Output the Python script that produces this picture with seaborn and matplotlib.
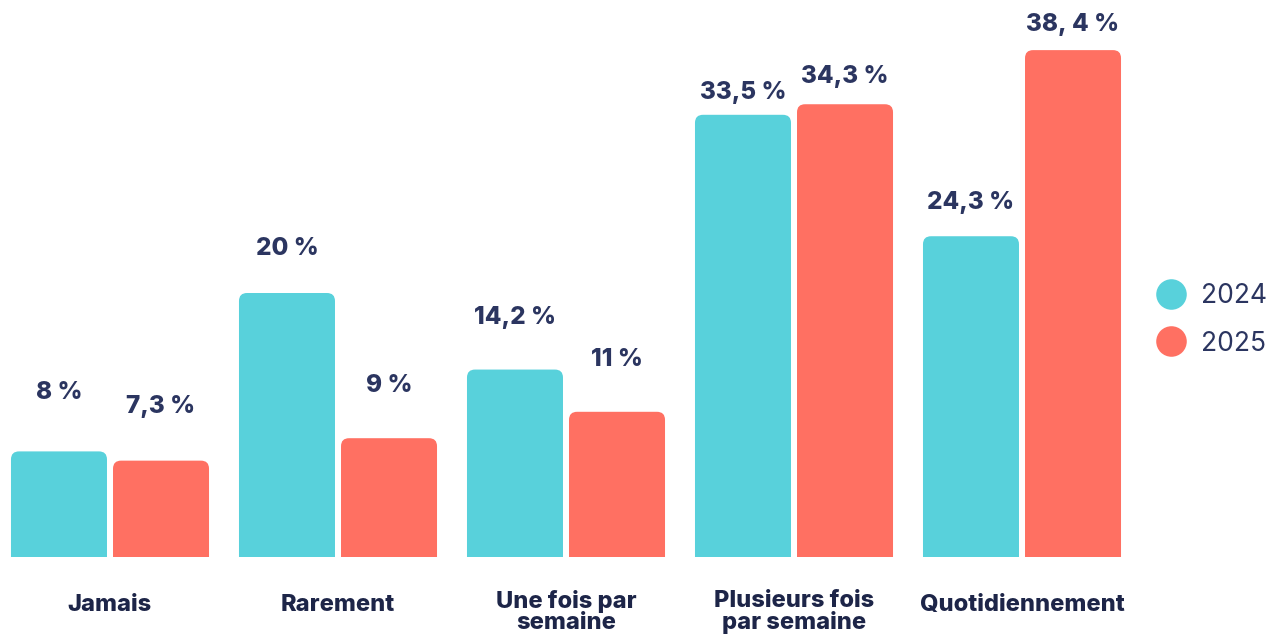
import matplotlib
matplotlib.use("Agg")
import matplotlib.pyplot as plt
import seaborn as sns
import pandas as pd
from matplotlib.patches import FancyBboxPatch
from matplotlib.lines import Line2D

categories = ["Jamais", "Rarement", "Une fois par\nsemaine", "Plusieurs fois\npar semaine", "Quotidiennement"]
years = ["2024", "2025"]
values_2024 = [8.0, 20.0, 14.2, 33.5, 24.3]
values_2025 = [7.3, 9.0, 11.0, 34.3, 38.4]
labels_2024 = ["8 %", "20 %", "14,2 %", "33,5 %", "24,3 %"]
labels_2025 = ["7,3 %", "9 %", "11 %", "34,3 %", "38, 4 %"]

# style: label offsets above bar tops (pixels)
offset_2024 = [59, 45, 52, 22, 34]
offset_2025 = [54, 53, 52, 28, 26]

TEAL = "#58D1DB"
CORAL = "#FF7062"
NAVY = "#2B3560"
NAVY_DARK = "#1D2548"

sns.set_theme(style="white")
plt.rcParams["font.family"] = ["Inter", "DejaVu Sans"]

df = pd.DataFrame({
    "cat": categories * 2,
    "year": [years[0]] * 5 + [years[1]] * 5,
    "val": values_2024 + values_2025,
})

W, H = 1284, 635
fig = plt.figure(figsize=(W / 100, H / 100), dpi=100)
base_px = 78
ax = fig.add_axes([0, base_px / H, 1130 / W, (H - base_px) / H])

sns.barplot(data=df, x="cat", y="val", hue="year", order=categories,
            hue_order=years, palette=[TEAL, CORAL], width=0.895, gap=0.059,
            legend=False, ax=ax, saturation=1)

px_per_unit_x = 228.0
ax.set_xlim(-110 / px_per_unit_x, (1130 - 110) / px_per_unit_x)
ymax = 557 / 13.2
ax.set_ylim(0, ymax)
px_per_unit_y = (H - base_px) / ymax

# rounded tops
r_px = 8
rx = r_px / px_per_unit_x
ry = r_px / px_per_unit_y
for cont, color, labs, offs in zip(ax.containers, [TEAL, CORAL],
                                   [labels_2024, labels_2025],
                                   [offset_2024, offset_2025]):
    for bar, lab, off in zip(cont.patches, labs, offs):
        x, w, h = bar.get_x(), bar.get_width(), bar.get_height()
        bar.set_visible(False)
        fb = FancyBboxPatch((x, -2 * ry), w, h + 2 * ry,
                            boxstyle=f"round,pad=0,rounding_size={rx}",
                            mutation_aspect=ry / rx, facecolor=color,
                            edgecolor="none", clip_on=True)
        ax.add_patch(fb)
        ax.text(x + w / 2, h + off / px_per_unit_y, lab, ha="center",
                va="center", fontsize=17.5, fontweight=800, color=NAVY)

for s in ax.spines.values():
    s.set_visible(False)
ax.set_yticks([])
ax.set_xticks([])
ax.set_xlabel("")
ax.set_ylabel("")

# category labels
for i, c in enumerate(categories):
    ax.text(i, -55 / px_per_unit_y if "\n" in c else -48 / px_per_unit_y, c,
            ha="center", va="center", fontsize=17, fontweight=800,
            color=NAVY_DARK, linespacing=0.98, clip_on=False)

handles = [Line2D([], [], marker="o", linestyle="none", markersize=22,
                  markerfacecolor=col, markeredgecolor="none")
           for col in [TEAL, CORAL]]
fig.legend(handles, years, loc="center left", bbox_to_anchor=(1142 / W, 1 - 320 / H),
           frameon=False, fontsize=19, labelcolor=NAVY, handletextpad=0.55,
           labelspacing=0.8, handlelength=1.2, borderpad=0)

fig.savefig("out.png", dpi=100)
